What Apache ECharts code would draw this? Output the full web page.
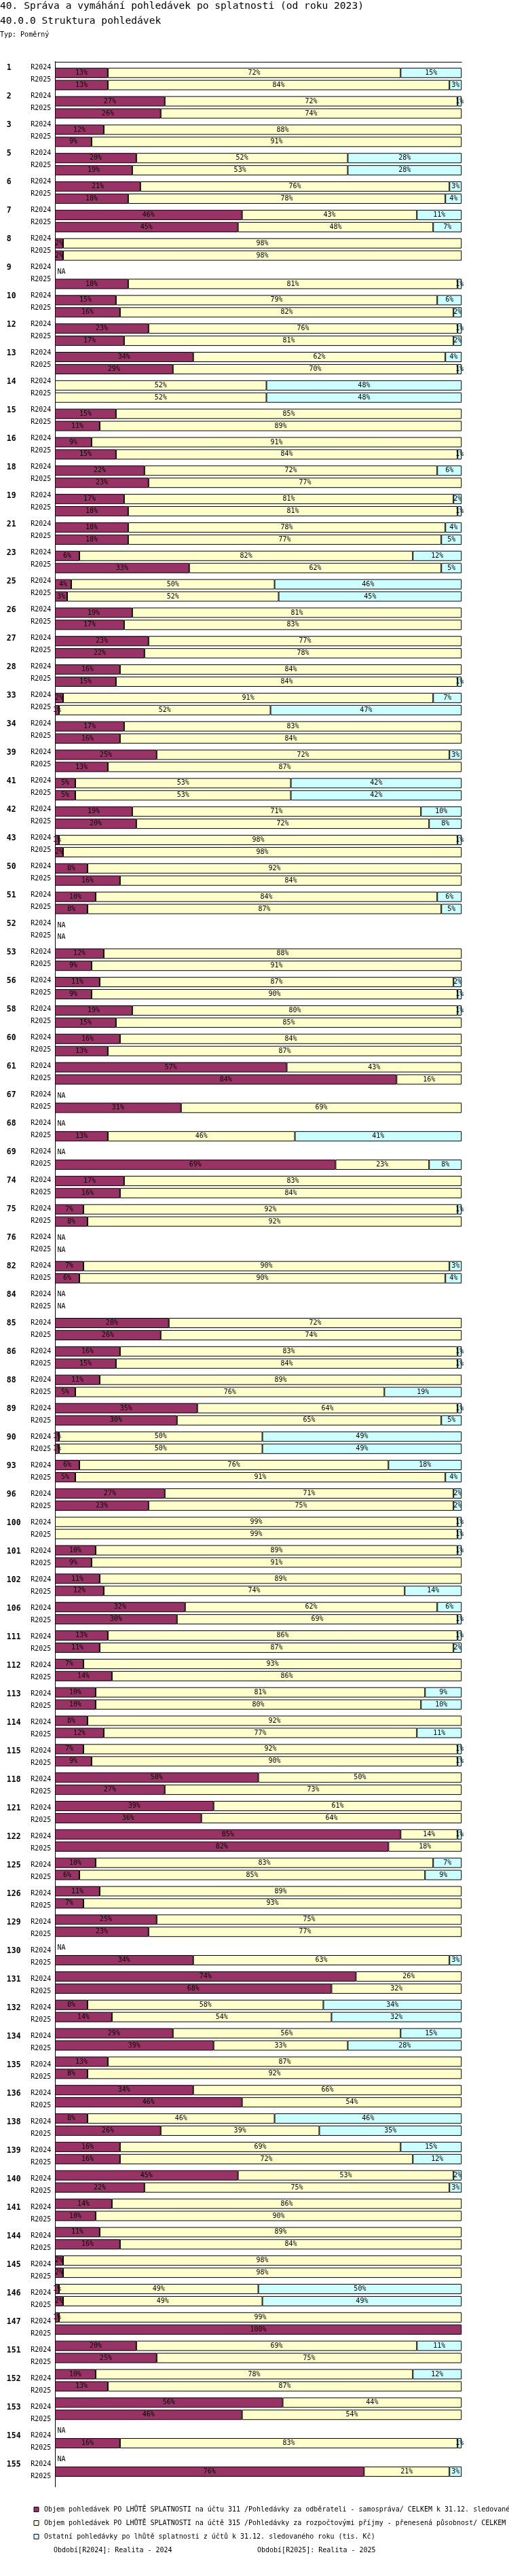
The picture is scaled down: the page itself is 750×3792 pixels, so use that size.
<!DOCTYPE html>
<html>
<head>
<meta charset="utf-8">
<script src="https://cdn.jsdelivr.net/npm/echarts@6/dist/echarts.min.js"></script>
<style>
  html, body { margin: 0; padding: 0; background: #fff; }
  #chart { width: 750px; height: 3792px; }
</style>
</head>
<body>
<div id="chart"></div>
<script>
// skupiny (obce) a obdobi
const groups = ['1','2','3','5','6','7','8','9','10','12','13','14','15','16','18','19','21','23','25','26',
  '27','28','33','34','39','41','42','43','50','51','52','53','56','58','60','61','67','68','69','74',
  '75','76','82','84','85','86','88','89','90','93','96','100','101','102','106','111','112','113','114','115',
  '118','121','122','125','126','129','130','131','132','134','135','136','138','139','140','141','144','145','146','147',
  '151','152','153','154','155'];
const periods = ['R2024', 'R2025'];

// podily v % (null = NA)
const po311_2024 = [13,27,12,20,21,46,2,null,15,23, 34,0,15,9,22,17,18,6,4,19,
  23,16,2,17,25,5,19,1,8,10, null,12,11,19,16,57,null,null,null,17,
  7,null,7,null,28,16,11,35,1,6, 27,0,10,11,32,13,7,10,8,7,
  50,39,85,10,11,25,null,74,8,29, 13,34,8,16,45,14,11,2,1,1,
  20,10,56,null,null];
const po315_2024 = [72,72,88,52,76,43,98,null,79,76, 62,52,85,91,72,81,78,82,50,81,
  77,84,91,83,72,53,71,98,92,84, null,88,87,80,84,43,null,null,null,83,
  92,null,90,null,72,83,89,64,50,76, 71,99,89,89,62,86,93,81,92,92,
  50,61,14,83,89,75,null,26,58,56, 87,66,46,69,53,86,89,98,49,99,
  69,78,44,null,null];
const ostatni_2024 = [15,1,0,28,3,11,0,null,6,1, 4,48,0,0,6,2,4,12,46,0,
  0,0,7,0,3,42,10,1,0,6, null,0,2,1,0,0,null,null,null,0,
  1,null,3,null,0,1,0,1,49,18, 2,1,1,0,6,1,0,9,0,1,
  0,0,1,7,0,0,null,0,34,15, 0,0,46,15,2,0,0,0,50,0,
  11,12,0,null,null];

const po311_2025 = [13,26,9,19,18,45,2,18,16,17, 29,0,11,15,23,18,18,33,3,17,
  22,15,1,16,13,5,20,2,16,8, null,9,9,15,13,84,31,13,69,16,
  8,null,6,null,26,15,5,30,1,5, 23,0,9,12,30,11,14,10,12,9,
  27,36,82,6,7,23,34,68,14,39, 8,46,26,16,22,10,16,2,2,100,
  25,13,46,16,76];
const po315_2025 = [84,74,91,53,78,48,98,81,82,81, 70,52,89,84,77,81,77,62,52,83,
  78,84,52,84,87,53,72,98,84,87, null,91,90,85,87,16,69,46,23,84,
  92,null,90,null,74,84,76,65,50,91, 75,99,91,74,69,87,86,80,77,90,
  73,64,18,85,93,77,63,32,54,33, 92,54,39,72,75,90,84,98,49,0,
  75,87,54,83,21];
const ostatni_2025 = [3,0,0,28,4,7,0,1,2,2, 1,48,0,1,0,1,5,5,45,0,
  0,1,47,0,0,42,8,0,0,5, null,0,1,0,0,0,0,41,8,0,
  0,null,4,null,0,1,19,5,49,4, 2,1,0,14,1,2,0,10,11,1,
  0,0,0,9,0,0,3,0,32,28, 0,0,35,12,3,0,0,0,49,0,
  0,0,0,1,3];

const seriesNames = [
  'Objem pohledávek PO LHŮTĚ SPLATNOSTI na účtu 311 /Pohledávky za odběrateli - samospráva/ CELKEM k 31.12. sledovaného roku (tis. Kč)',
  'Objem pohledávek PO LHŮTĚ SPLATNOSTI na účtě 315 /Pohledávky za rozpočtovými příjmy - přenesená působnost/ CELKEM k 31.12. sledovaného roku (tis. Kč)',
  'Ostatní pohledávky po lhůtě splatnosti z účtů k 31.12. sledovaného roku (tis. Kč)'
];
const colors = ['#993366', '#FFFFCC', '#CCFFFF'];

const MONO = '"DejaVu Sans Mono", "Liberation Mono", monospace';
// svisle rozvrzeni: skupina 42 px, radek 18 px, sloty po 6 px pro popisky
const GROUP_PX = 42;
const ROW_PX = [9, 27];
const SLOTS = 7;
const plotHeight = groups.length * GROUP_PX;

const rowPos = [];
groups.forEach((g, i) => {
  rowPos.push(i * GROUP_PX + ROW_PX[0], i * GROUP_PX + ROW_PX[1]);
});

function rowsOf(a24, a25) {
  const out = [];
  groups.forEach((g, i) => { out.push(a24[i], a25[i]); });
  return out;
}

function barData(a24, a25) {
  return rowsOf(a24, a25).map((v, k) => [v ? v : '-', rowPos[k]]);
}

// radky bez dat: pruhledny pruh pres celou sirku, jen kvuli popisku NA
const naData = rowsOf(po311_2024, po311_2025).map((v, k) => [v === null ? 100 : '-', rowPos[k]]);

const slotNames = [];
for (let i = 0; i < groups.length * SLOTS; i++) slotNames.push('s' + i);

function barSeries(idx, data) {
  return {
    name: seriesNames[idx],
    type: 'bar',
    stack: 'total',
    xAxisIndex: 0,
    yAxisIndex: 0,
    barWidth: 15,
    data: data,
    itemStyle: { color: colors[idx], borderColor: '#000', borderWidth: 1 },
    label: {
      show: true,
      position: 'inside',
      color: '#000',
      fontFamily: MONO,
      fontSize: 10,
      formatter: p => p.value[0] + '%'
    },
    emphasis: { disabled: true }
  };
}

const chart = echarts.init(document.getElementById('chart'));
chart.setOption({
  animation: false,
  backgroundColor: '#fff',
  title: [
    { text: '40. Správa a vymáhání pohledávek po splatnosti (od roku 2023)', left: 0, top: 1.5, padding: 0,
      textStyle: { fontFamily: MONO, fontSize: 14.6, fontWeight: 'normal', color: '#000', lineHeight: 15 } },
    { text: '40.0.0 Struktura pohledávek', left: 0, top: 24, padding: 0,
      textStyle: { fontFamily: MONO, fontSize: 14.6, fontWeight: 'normal', color: '#000', lineHeight: 15 } },
    { text: 'Typ: Poměrný', left: 0, top: 46, padding: 0,
      textStyle: { fontFamily: MONO, fontSize: 10, fontWeight: 'normal', color: '#000', lineHeight: 10 } },
    { text: 'Období[' + periods[0] + ']: Realita - 2024', left: 79, top: 3749, padding: 0,
      textStyle: { fontFamily: MONO, fontSize: 10, fontWeight: 'normal', color: '#000', lineHeight: 10 } },
    { text: 'Období[' + periods[1] + ']: Realita - 2025', left: 379, top: 3749, padding: 0,
      textStyle: { fontFamily: MONO, fontSize: 10, fontWeight: 'normal', color: '#000', lineHeight: 10 } }
  ],
  legend: {
    orient: 'vertical',
    left: 44.5,
    top: 3683,
    itemWidth: 7,
    itemHeight: 7,
    itemGap: 8,
    icon: 'rect',
    selectedMode: false,
    data: seriesNames,
    itemStyle: { borderColor: '#000', borderWidth: 1 },
    textStyle: { fontFamily: MONO, fontSize: 10, color: '#000', lineHeight: 12, padding: [0, 0, 0, 3] }
  },
  grid: { left: 81, right: 69.8, top: 90.8, height: plotHeight, containLabel: false, outerBoundsMode: 'none' },
  xAxis: {
    type: 'value', min: 0, max: 100, position: 'top',
    axisLine: { show: true, onZero: false, lineStyle: { color: '#000', width: 1 } },
    axisTick: { show: false }, axisLabel: { show: false }, splitLine: { show: false }
  },
  yAxis: [
    { type: 'time', min: 0, max: plotHeight, inverse: true, show: false,
      axisLine: { show: false }, axisLabel: { show: false }, splitLine: { show: false } },
    {
      type: 'category', data: slotNames, inverse: true, position: 'left',
      axisLine: { show: true, onZero: false, lineStyle: { color: '#000', width: 1 } },
      axisTick: { show: false }, splitLine: { show: false },
      axisLabel: {
        interval: 0,
        margin: 5.7,
        formatter: (val, idx) => {
          const g = Math.floor(idx / SLOTS), r = idx % SLOTS;
          if (r === 1) return '{g|' + groups[g] + '}{r|' + periods[0] + '}';
          if (r === 4) return '{r|' + periods[1] + '}';
          return '';
        },
        rich: {
          g: { width: 35.4, align: 'left', fontFamily: MONO, fontSize: 11.5, fontWeight: 'bold', color: '#000' },
          r: { fontFamily: MONO, fontSize: 10, color: '#000' }
        }
      }
    }
  ],
  series: [
    {
      name: 'NA', type: 'bar', stack: 'total', xAxisIndex: 0, yAxisIndex: 0, barWidth: 15,
      data: naData,
      itemStyle: { color: 'rgba(0,0,0,0)', borderWidth: 0 },
      label: { show: true, position: 'insideLeft', distance: 3.4, formatter: 'NA', color: '#000', fontFamily: MONO, fontSize: 10 },
      emphasis: { disabled: true }
    },
    barSeries(0, barData(po311_2024, po311_2025)),
    barSeries(1, barData(po315_2024, po315_2025)),
    barSeries(2, barData(ostatni_2024, ostatni_2025))
  ]
});
</script>
</body>
</html>
